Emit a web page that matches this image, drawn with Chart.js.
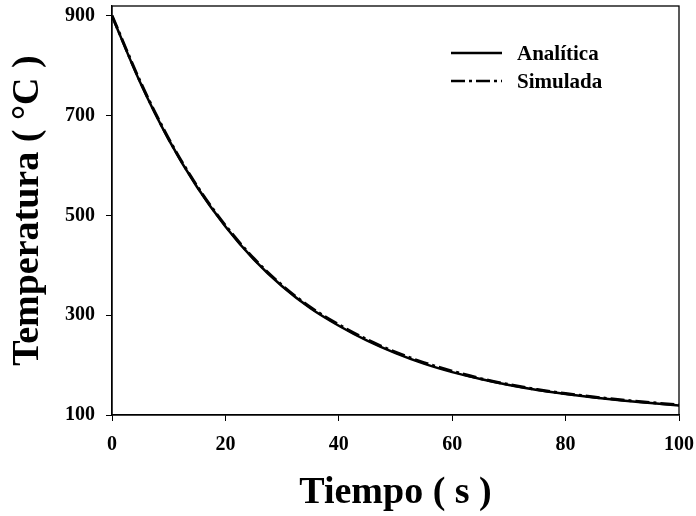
<!DOCTYPE html>
<html lang="es">
<head>
    <meta charset="UTF-8">
    <script src="https://cdn.jsdelivr.net/npm/chart.js"></script>
    <title>Enfriamiento</title>
    <style>
        body { margin: 0; background: #fff; }
        canvas { display: block; }
    </style>
</head>
<body>
    <canvas id="grafico" width="696" height="516"></canvas>

    <script>
        // tiempo (s) y temperatura (°C)
        const tiempo = [0, 5, 10, 15, 20, 25, 30, 35, 40, 45, 50, 55, 60, 65, 70, 75, 80, 85, 90, 95, 100];
        const analitica = [900, 766, 652, 557, 478, 412, 358, 314, 279, 249, 224, 203, 186, 172, 160, 150, 142, 135, 129, 124, 119];
        const simulada = [901, 768, 654, 559, 480, 414, 360, 316, 281, 251, 226, 205, 188, 173, 161, 151, 143, 136, 130, 125, 120];

        const ticksX = [0, 20, 40, 60, 80, 100];
        const ticksY = [100, 300, 500, 700, 900];

        const serif = "'Liberation Serif', 'Times New Roman', serif";

        function puntos(ys) {
            return tiempo.map((t, i) => ({ x: t, y: ys[i] }));
        }

        // marco completo alrededor del area de trazado
        const marco = {
            id: 'marco',
            afterDatasetsDraw(chart) {
                const a = chart.chartArea;
                const ctx = chart.ctx;
                ctx.save();
                ctx.strokeStyle = '#000';
                ctx.lineWidth = 1.3;
                ctx.strokeRect(a.left, a.top, a.right - a.left, a.bottom - a.top);
                ctx.restore();
            }
        };

        // leyenda con el estilo de linea de cada serie
        const leyenda = {
            id: 'leyenda',
            afterDraw(chart) {
                const a = chart.chartArea;
                const ctx = chart.ctx;
                ctx.save();
                chart.data.datasets.forEach((ds, i) => {
                    const y = a.top + 47 + i * 28;
                    const x0 = a.right - 228;
                    ctx.strokeStyle = '#000';
                    ctx.lineWidth = 2.5;
                    ctx.setLineDash(ds.borderDash || []);
                    ctx.beginPath();
                    ctx.moveTo(x0, y);
                    ctx.lineTo(x0 + 51, y);
                    ctx.stroke();
                    ctx.setLineDash([]);
                    ctx.fillStyle = '#000';
                    ctx.font = 'bold 21px ' + serif;
                    ctx.textBaseline = 'alphabetic';
                    ctx.fillText(ds.label, x0 + 66, y + 7);
                });
                ctx.restore();
            }
        };

        const ctx = document.getElementById('grafico').getContext('2d');
        new Chart(ctx, {
            type: 'line',
            data: {
                datasets: [{
                    label: 'Analítica',
                    data: puntos(analitica),
                    borderColor: '#000',
                    borderWidth: 2.5,
                    pointRadius: 0,
                    cubicInterpolationMode: 'monotone'
                }, {
                    label: 'Simulada',
                    data: puntos(simulada),
                    borderColor: '#000',
                    borderWidth: 3,
                    borderDash: [14, 4, 3, 4],
                    pointRadius: 0,
                    cubicInterpolationMode: 'monotone'
                }]
            },
            options: {
                responsive: false,
                animation: false,
                layout: { padding: { left: 0, top: 6, right: 17, bottom: 0 } },
                plugins: {
                    legend: { display: false },
                    tooltip: { enabled: false }
                },
                scales: {
                    x: {
                        type: 'linear',
                        min: 0,
                        max: 100,
                        afterBuildTicks: s => { s.ticks = ticksX.map(v => ({ value: v })); },
                        afterFit: s => { s.height = 101; s.paddingLeft = 0; s.paddingRight = 0; },
                        grid: { drawOnChartArea: false, color: '#000', tickLength: 6, lineWidth: 1 },
                        border: { color: '#000', width: 1.3 },
                        ticks: {
                            color: '#000',
                            padding: 12,
                            maxRotation: 0,
                            font: { family: serif, size: 20, weight: 'bold' }
                        },
                        title: {
                            display: true,
                            text: 'Tiempo ( s )',
                            color: '#000',
                            padding: { top: 0, bottom: 0 },
                            font: { family: serif, size: 38, weight: 'bold' }
                        }
                    },
                    y: {
                        min: 100,
                        max: 920,
                        afterBuildTicks: s => { s.ticks = ticksY.map(v => ({ value: v })); },
                        afterFit: s => { s.width = 112; s.paddingTop = 0; s.paddingBottom = 0; },
                        grid: { drawOnChartArea: false, color: '#000', tickLength: 6, lineWidth: 1 },
                        border: { color: '#000', width: 1.3 },
                        ticks: {
                            color: '#000',
                            padding: 11,
                            font: { family: serif, size: 20, weight: 'bold' }
                        },
                        title: {
                            display: true,
                            text: 'Temperatura ( °C )',
                            color: '#000',
                            padding: { top: 5, bottom: 0 },
                            font: { family: serif, size: 38, weight: 'bold' }
                        }
                    }
                }
            },
            plugins: [marco, leyenda]
        });
    </script>
</body>
</html>
